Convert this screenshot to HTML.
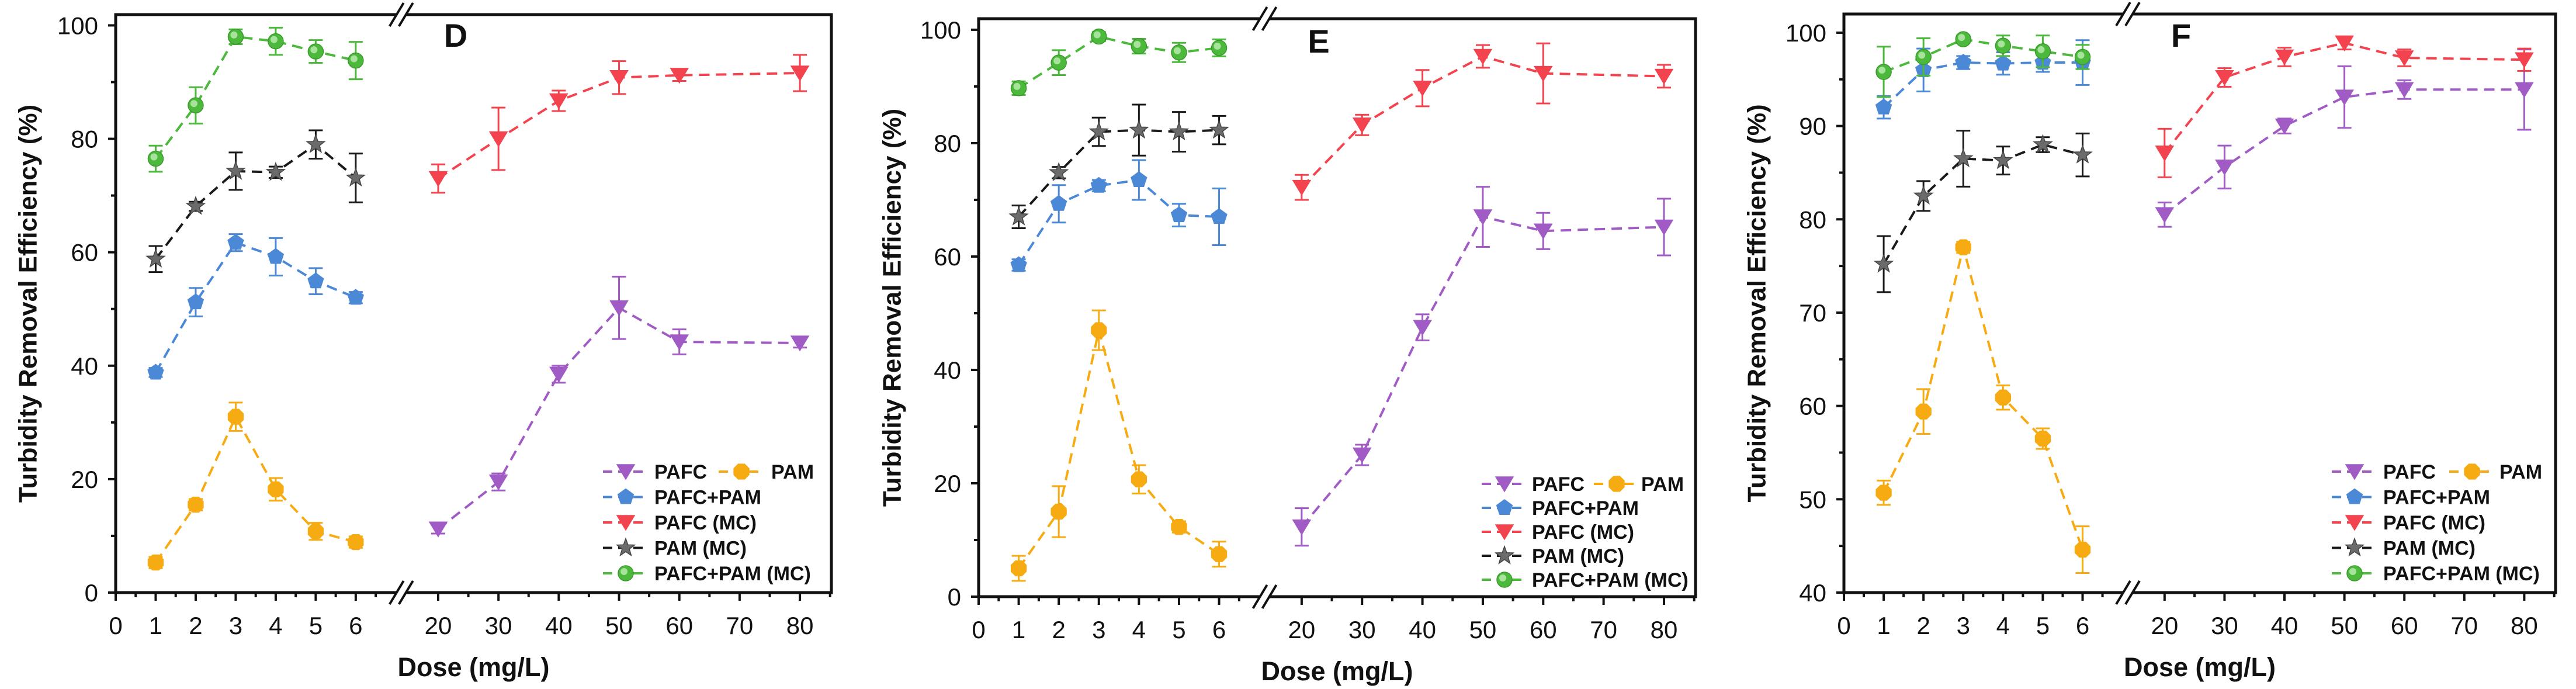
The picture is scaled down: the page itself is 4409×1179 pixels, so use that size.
<!DOCTYPE html>
<html><head><meta charset="utf-8"><style>
html,body{margin:0;padding:0;background:#fff;}
svg{display:block;font-family:"Liberation Sans",Arial,sans-serif;}
</style></head>
<body>
<svg id="chart" width="4409" height="1179" viewBox="0 0 4409 1179" xmlns="http://www.w3.org/2000/svg">
<rect width="4409" height="1179" fill="#ffffff"/>
</svg>
<script>
// ---- data ----
const dosesLow = [1, 2, 3, 4, 5, 6];
const dosesHigh = [20, 30, 40, 50, 60, 80];
const seriesNames = ["PAFC", "PAM", "PAFC+PAM", "PAFC (MC)", "PAM (MC)", "PAFC+PAM (MC)"];

// Panel D
const dPafc = [11.2, 19.5, 38.5, 50.2, 44.2, 44.0];
const dPafcErr = [0.8, 1.5, 1.5, 5.5, 2.2, 0.8];
const dPafcMc = [73.0, 80.0, 86.7, 90.8, 91.2, 91.6];
const dPafcMcErr = [2.5, 5.5, 1.8, 2.9, 1.0, 3.2];
const dPam = [5.3, 15.5, 31.0, 18.2, 10.8, 8.9];
const dPamErr = [1.0, 1.0, 2.5, 2.0, 1.5, 1.0];
const dPafcPam = [38.8, 51.2, 61.7, 59.2, 54.9, 52.0];
const dPafcPamErr = [0.8, 2.5, 1.5, 3.3, 2.3, 1.0];
const dPamMc = [58.8, 68.1, 74.3, 74.1, 79.0, 73.1];
const dPamMcErr = [2.3, 0.8, 3.3, 1.0, 2.5, 4.3];
const dPafcPamMc = [76.5, 85.9, 98.0, 97.2, 95.4, 93.8];
const dPafcPamMcErr = [2.3, 3.2, 1.3, 2.4, 2.0, 3.3];

// Panel E
const ePafc = [12.3, 25.0, 47.5, 67.0, 64.5, 65.2];
const ePafcErr = [3.3, 1.8, 2.3, 5.3, 3.2, 5.0];
const ePafcMc = [72.2, 83.2, 89.7, 95.3, 92.3, 91.8];
const ePafcMcErr = [2.2, 1.8, 3.2, 2.0, 5.3, 2.0];
const ePam = [5.0, 15.0, 47.0, 20.7, 12.3, 7.5];
const ePamErr = [2.2, 4.5, 3.5, 2.5, 1.0, 2.2];
const ePafcPam = [58.5, 69.3, 72.5, 73.5, 67.3, 67.0];
const ePafcPamErr = [1.0, 3.3, 1.0, 3.5, 2.0, 5.0];
const ePamMc = [67.0, 74.8, 82.0, 82.3, 82.0, 82.3];
const ePamMcErr = [2.0, 1.0, 2.5, 4.5, 3.5, 2.5];
const ePafcPamMc = [89.7, 94.2, 98.8, 97.1, 96.0, 96.8];
const ePafcPamMcErr = [1.2, 2.2, 0.8, 1.3, 1.7, 1.5];

// Panel F
const fPafc = [80.5, 85.6, 90.0, 93.1, 93.9, 93.9];
const fPafcErr = [1.3, 2.3, 0.8, 3.3, 1.0, 4.3];
const fPafcMc = [87.1, 95.2, 97.4, 98.9, 97.3, 97.1];
const fPafcMcErr = [2.6, 1.0, 1.0, 0.7, 0.9, 1.2];
const fPam = [50.7, 59.4, 77.0, 60.9, 56.5, 44.6];
const fPamErr = [1.3, 2.4, 0.6, 1.3, 1.1, 2.5];
const fPafcPam = [92.0, 96.0, 96.8, 96.7, 96.8, 96.8];
const fPafcPamErr = [1.2, 2.3, 0.7, 1.2, 1.0, 2.4];
const fPamMc = [75.2, 82.5, 86.5, 86.3, 88.0, 86.9];
const fPamMcErr = [3.0, 1.6, 3.0, 1.5, 0.8, 2.3];
const fPafcPamMc = [95.8, 97.4, 99.3, 98.6, 98.0, 97.4];
const fPafcPamMcErr = [2.7, 2.0, 0.4, 1.1, 1.7, 1.3];

const xTicksLow = [0, 1, 2, 3, 4, 5, 6];
const xTicksHigh = [20, 30, 40, 50, 60, 70, 80];
const yTicksDE = [0, 20, 40, 60, 80, 100];
const yTicksF = [40, 50, 60, 70, 80, 90, 100];

// ---- layout ----
const NS = "http://www.w3.org/2000/svg";
const svg = document.getElementById("chart");
const styles = {
  "PAFC": {color: "#a05cc4", marker: "tri"},
  "PAM": {color: "#f7ab12", marker: "oct"},
  "PAFC+PAM": {color: "#4b88d6", marker: "pent"},
  "PAFC (MC)": {color: "#f2434f", marker: "tri"},
  "PAM (MC)": {color: "#1a1a1a", marker: "star", fill: "#6b6b6b"},
  "PAFC+PAM (MC)": {color: "#4cb83c", marker: "ball"}
};
const panels = [
  {id: "D", left: 198, top: 25, w: 1225, h: 989, ymin: 0, ymax: 101.9, yTicks: yTicksDE, yMinor: 10, ytx: 48,
   leg: {x0: 834, tx: 922, x2: 1032, tx2: 1122, y0: 807, dy: 43.5}, letter: [780, 60],
   data: {"PAFC": [dPafc, dPafcErr, dosesHigh], "PAFC (MC)": [dPafcMc, dPafcMcErr, dosesHigh], "PAM": [dPam, dPamErr, dosesLow],
          "PAFC+PAM": [dPafcPam, dPafcPamErr, dosesLow], "PAM (MC)": [dPamMc, dPamMcErr, dosesLow], "PAFC+PAM (MC)": [dPafcPamMc, dPafcPamMcErr, dosesLow]}},
  {id: "E", left: 1675, top: 32, w: 1227, h: 989, ymin: 0, ymax: 101.95, yTicks: yTicksDE, yMinor: 10, ytx: 1527,
   leg: {x0: 861, tx: 947, x2: 1053, tx2: 1134, y0: 828, dy: 41}, letter: [2257, 70],
   data: {"PAFC": [ePafc, ePafcErr, dosesHigh], "PAFC (MC)": [ePafcMc, ePafcMcErr, dosesHigh], "PAM": [ePam, ePamErr, dosesLow],
          "PAFC+PAM": [ePafcPam, ePafcPamErr, dosesLow], "PAM (MC)": [ePamMc, ePamMcErr, dosesLow], "PAFC+PAM (MC)": [ePafcPamMc, ePafcPamMcErr, dosesLow]}},
  {id: "F", left: 3156, top: 24, w: 1218, h: 990, ymin: 40, ymax: 102.0, yTicks: yTicksF, yMinor: 5, ytx: 3007,
   leg: {x0: 835, tx: 923, x2: 1036, tx2: 1122, y0: 807, dy: 43.5}, letter: [3733, 60],
   data: {"PAFC": [fPafc, fPafcErr, dosesHigh], "PAFC (MC)": [fPafcMc, fPafcMcErr, dosesHigh], "PAM": [fPam, fPamErr, dosesLow],
          "PAFC+PAM": [fPafcPam, fPafcPamErr, dosesLow], "PAM (MC)": [fPamMc, fPamMcErr, dosesLow], "PAFC+PAM (MC)": [fPafcPamMc, fPafcPamMcErr, dosesLow]}}
];

function mk(tag, attrs, parent) {
  const el = document.createElementNS(NS, tag);
  for (const k in attrs) el.setAttribute(k, attrs[k]);
  (parent || svg).appendChild(el);
  return el;
}
function markerPts(type) {
  const pts = [];
  if (type === "tri") return "-15,-12 15,-12 0,13";
  let n = type === "pent" ? 5 : 8, r = 14, rot = type === "pent" ? -Math.PI / 2 : Math.PI / 8;
  if (type === "star") {
    for (let i = 0; i < 10; i++) { const a = -Math.PI / 2 + i * Math.PI / 5, rr = i % 2 ? 6.5 : 16; pts.push((rr * Math.cos(a)).toFixed(1) + "," + (rr * Math.sin(a)).toFixed(1)); }
    return pts.join(" ");
  }
  for (let i = 0; i < n; i++) { const a = rot + i * 2 * Math.PI / n; pts.push((r * Math.cos(a)).toFixed(1) + "," + (r * Math.sin(a)).toFixed(1)); }
  return pts.join(" ");
}
function drawMarker(g, name, cx, cy) {
  const st = styles[name];
  let m;
  if (st.marker === "ball") {
    m = mk("circle", {cx: cx, cy: cy, r: 13, fill: st.color, stroke: "#3a9a2c", "stroke-width": 1.5}, g);
    const h = mk("circle", {cx: cx - 3, cy: cy - 3, r: 6, fill: "#a8e39c"}, g);
    
    
  } else {
    m = mk("polygon", {points: markerPts(st.marker), transform: "translate(" + cx + "," + cy + ")", fill: st.fill || st.color, stroke: st.fill ? "#444" : st.color, "stroke-width": 1.5}, g);
  }
  return m;
}

panels.forEach(p => {
  const g = mk("g", {});
  
  
  const bottom = p.top + p.h, right = p.left + p.w;
  const xs = v => v <= 7.2 ? p.left + p.w * v * 0.0559 : p.left + p.w * (0.4506 + (v - 20) * (0.956 - 0.4506) / 60);
  const ys = v => bottom - (v - p.ymin) / (p.ymax - p.ymin) * p.h;

  // frame
  const fr = mk("rect", {x: p.left, y: p.top, width: p.w, height: p.h, fill: "none", stroke: "#111", "stroke-width": 5}, g);
  
  

  // y ticks
  p.yTicks.forEach(t => {
    const tl = mk("line", {x1: p.left - 13, x2: p.left, y1: ys(t), y2: ys(t), stroke: "#111", "stroke-width": 4}, g);
    
    
    const lb = mk("text", {x: p.left - 30, y: ys(t) + 15, "text-anchor": "end", "font-size": 42, fill: "#111"}, g);
    lb.textContent = t;
    
    
    const mv = t + p.yMinor;
    if (mv < p.ymax) {
      const mt = mk("line", {x1: p.left - 8, x2: p.left, y1: ys(mv), y2: ys(mv), stroke: "#111", "stroke-width": 4}, g);
      
      
    }
  });
  // x ticks
  xTicksLow.concat(xTicksHigh).forEach(t => {
    const tl = mk("line", {x1: xs(t), x2: xs(t), y1: bottom, y2: bottom + 14, stroke: "#111", "stroke-width": 4}, g);
    
    
    const lb = mk("text", {x: xs(t), y: bottom + 71, "text-anchor": "middle", "font-size": 42, fill: "#111"}, g);
    lb.textContent = t;
    
    
  });
  [0.5, 1.5, 2.5, 3.5, 4.5, 5.5, 6.5, 25, 35, 45, 55, 65, 75, 85].forEach(t => {
    const mt = mk("line", {x1: xs(t), x2: xs(t), y1: bottom, y2: bottom + 8, stroke: "#111", "stroke-width": 4}, g);
    
    
  });
  // axis breaks
  const bx = p.left + p.w * 0.399;
  [p.top, bottom].forEach(by => {
    const bg = mk("g", {}, g);
    
    
    mk("polygon", {points: (bx - 20) + "," + (by + 18) + " " + (bx - 4) + "," + (by + 18) + " " + (bx + 20) + "," + (by - 18) + " " + (bx + 4) + "," + (by - 18), fill: "#fff"}, bg);
    mk("line", {x1: bx - 20, y1: by + 20, x2: bx + 4, y2: by - 20, stroke: "#111", "stroke-width": 4}, bg);
    mk("line", {x1: bx - 4, y1: by + 20, x2: bx + 20, y2: by - 20, stroke: "#111", "stroke-width": 4}, bg);
  });

  // series
  seriesNames.forEach(name => {
    const [vals, errs, doses] = p.data[name];
    const st = styles[name];
    const sg = mk("g", {}, g);
    
    
    const pts = doses.map((d, i) => xs(d).toFixed(1) + "," + ys(vals[i]).toFixed(1)).join(" ");
    const ln = mk("polyline", {points: pts, fill: "none", stroke: st.color, "stroke-width": 4, "stroke-dasharray": "18 11"}, sg);
    
    
    doses.forEach((d, i) => {
      const cx = xs(d), y1 = ys(vals[i] + errs[i]), y2 = ys(Math.max(vals[i] - errs[i], p.ymin));
      const eb = mk("path", {d: "M" + cx + "," + y1 + "V" + y2 + "M" + (cx - 12) + "," + y1 + "H" + (cx + 12) + "M" + (cx - 12) + "," + y2 + "H" + (cx + 12), stroke: st.color, "stroke-width": 3, fill: "none"}, sg);
      
      
      const m = drawMarker(sg, name, cx, ys(vals[i]));
      
      
    });
  });

  // legend
  const lg = mk("g", {}, g);
  
  
  const L = p.leg;
  const entries = [["PAFC", L.x0, L.tx, 0], ["PAM", L.x2, L.tx2, 0], ["PAFC+PAM", L.x0, L.tx, 1], ["PAFC (MC)", L.x0, L.tx, 2], ["PAM (MC)", L.x0, L.tx, 3], ["PAFC+PAM (MC)", L.x0, L.tx, 4]];
  entries.forEach(([name, x0, tx, row]) => {
    const eg = mk("g", {}, lg);
    
    
    const y = p.top + 0 + (L.y0 - p.top) + row * L.dy;
    mk("line", {x1: p.left + x0, x2: p.left + x0 + 78, y1: y, y2: y, stroke: styles[name].color, "stroke-width": 4, "stroke-dasharray": "16 10"}, eg);
    drawMarker(eg, name, p.left + x0 + 39, y);
    const t = mk("text", {x: p.left + tx, y: y + 12, "font-size": 34, "font-weight": "bold", fill: "#111"}, eg);
    t.textContent = name;
  });

  // titles
  const lt = mk("text", {x: p.letter[0], y: p.letter[1] + 20, "text-anchor": "middle", "font-size": 56, "font-weight": "bold", fill: "#111"}, g);
  lt.textContent = p.id;
  
  
  const xt = mk("text", {x: (p.left + right) / 2, y: bottom + 143, "text-anchor": "middle", "font-size": 45, "font-weight": "bold", fill: "#111"}, g);
  xt.textContent = "Dose (mg/L)";
  
  
  const cy = (p.top + bottom) / 2;
  const yt = mk("text", {x: p.ytx, y: cy, transform: "rotate(-90 " + p.ytx + " " + cy + ")", "text-anchor": "middle", "dominant-baseline": "central", "font-size": 44, "font-weight": "bold", fill: "#111"}, g);
  yt.textContent = "Turbidity Removal Efficiency (%)";
  
  
});
</script>
</body></html>
